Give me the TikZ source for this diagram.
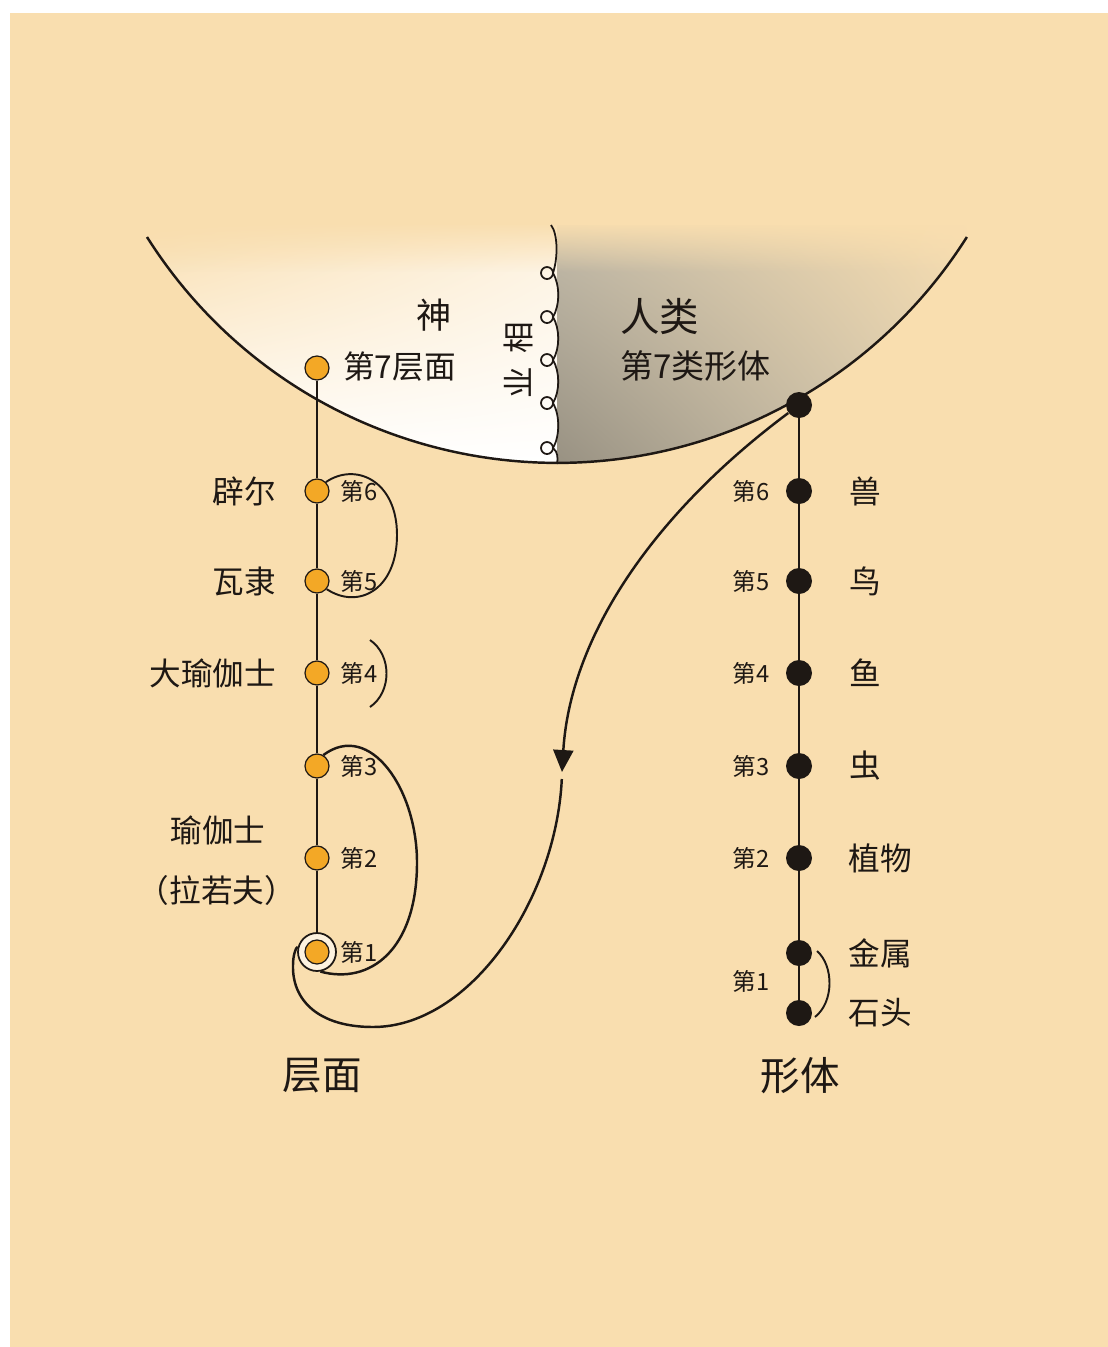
\documentclass[tikz,border=0pt]{standalone}
\usepackage{fontspec}
\setmainfont{Noto Sans CJK SC}
\usetikzlibrary{positioning,arrows.meta,shadings,fadings}
\definecolor{bg}{RGB}{249,222,175}
\definecolor{ink}{RGB}{30,24,20}
\definecolor{gold}{RGB}{243,168,38}
\definecolor{dustA}{RGB}{196,188,170}
\definecolor{dustB}{RGB}{152,145,130}
\definecolor{dustC}{RGB}{222,209,182}

\begin{document}
\begin{tikzpicture}[x=0.02cm,y=-0.02cm,
  odot/.style={circle,draw=ink,line width=0.7pt,fill=gold,inner sep=0pt,minimum size=0.48cm},
  bdot/.style={circle,fill=ink,inner sep=0pt,minimum size=0.52cm},
  ring/.style={circle,draw=ink,line width=1pt,fill=bg!40!white,inner sep=0pt,minimum size=0.76cm},
  stem/.style={draw=ink,line width=1.3pt},
  hoop/.style={draw=ink,line width=1.1pt},
  trail/.style={draw=ink,line width=1.4pt},
  wave/.style={draw=ink,line width=1pt},
  rank/.style={inner sep=0pt,text=ink,font=\fontsize{13.5pt}{15pt}\selectfont},
  kind/.style={inner sep=0pt,text=ink,font=\fontsize{18pt}{21pt}\selectfont},
  hdr/.style={inner sep=0pt,text=ink,font=\fontsize{22.5pt}{25pt}\selectfont}]
\useasboundingbox (0,0) rectangle (1108,1347);
\fill[white] (0,0) rectangle (1108,1347);
\fill[bg] (10,13) rectangle (1108,1347);

% the bowl: gods on the left, humans on the right
\begin{scope}
  \clip (147,237) arc[start angle=147.7,end angle=90,radius=485] -- (557,225) -- (147,225) -- cycle;
  \shade[upper left=bg,upper right=bg!40!white,lower left=white,lower right=white] (140,225) rectangle (557,465);
\end{scope}
\begin{scope}
  \clip (557,463) arc[start angle=90,end angle=32.3,radius=485] -- (966,225) -- (557,225) -- cycle;
  \shade[upper left=dustA,upper right=bg,lower left=dustB,lower right=dustC] (557,225) rectangle (970,465);
\end{scope}
\fill[bg,path fading=south] (140,222) rectangle (975,272);
\draw[trail] (147,237) arc[start angle=147.7,end angle=32.3,radius=485];

\draw[wave] (551,225) .. controls (558,234) and (558,258) .. (553,273)
  .. controls (560,285) and (560,305) .. (553,317)
  .. controls (560,329) and (560,348) .. (553,360)
  .. controls (560,372) and (560,391) .. (553,403)
  .. controls (560,415) and (560,436) .. (553,448)
  .. controls (558,452) and (558,458) .. (557,464);
\foreach \y in {273,317,360,403,448}
  \draw[wave] (547,\y) circle[radius=6];
\node[kind,rotate=90] (karma) at (518,360) {业\hspace{0.26cm}相};

% planes
\node[ring] (r1) at (317,952) {};
\foreach \i/\y in {7/368,6/491,5/581,4/673,3/766,2/858,1/952}
  \node[odot] (p\i) at (317,\y) {};
\draw[stem] (p7) -- (p6) -- (p5) -- (p4) -- (p3) -- (p2) -- (r1);
\foreach \i in {1,...,6}
  \node[rank,right=0.22cm of p\i] (pl\i) {第\i};

\draw[hoop] (p6.45) .. controls (355,462) and (397,480) .. (397,535)
  .. controls (397,590) and (358,610) .. (p5.-40);
\draw[hoop] (370,640) .. controls (392,655) and (392,692) .. (370,707);
\draw[trail] (p3.60) .. controls (370,720) and (418,790) .. (417,865)
  .. controls (416,950) and (370,985) .. (r1.-80);

\node[kind,font=\fontsize{20pt}{22pt}\selectfont] (god) at (434,315) {神};
\node[kind,anchor=west] (p7t) at (343,367) {第7层面};
\node[kind,left=0.56cm of p6] (pir) {辟尔};
\node[kind,left=0.56cm of p5] (wal) {瓦隶};
\node[kind,left=0.56cm of p4] (mah) {大瑜伽士};
\node[kind] (yog) at (218,830) {瑜伽士};
\node[kind] (raj) at (217,890) {（拉若夫）};
\node[hdr] (planes) at (322,1076) {层面};

% forms
\foreach \i/\y in {7/405,6/491,5/581,4/673,3/766,2/858}
  \node[bdot] (f\i) at (799,\y) {};
\node[bdot] (fm) at (799,953) {};
\node[bdot] (fs) at (799,1013) {};
\draw[stem] (f7) -- (f6) -- (f5) -- (f4) -- (f3) -- (f2) -- (fm) -- (fs);
\foreach \i in {2,...,6}
  \node[rank,left=0.32cm of f\i] (fl\i) {第\i};
\node[rank,anchor=east] (fl1) at (770,981) {第1};
\draw[hoop] (817,951) .. controls (834,966) and (834,1002) .. (815,1017);

\node[kind,right=0.74cm of f6] {兽};
\node[kind,right=0.74cm of f5] {鸟};
\node[kind,right=0.74cm of f4] {鱼};
\node[kind,right=0.74cm of f3] {虫};
\node[kind,right=0.72cm of f2] {植物};
\node[kind,right=0.72cm of fm] {金属};
\node[kind,right=0.72cm of fs] {石头};
\node[hdr,anchor=west] (man) at (620,316) {人类};
\node[kind,anchor=west,font=\fontsize{18.8pt}{21pt}\selectfont] (f7t) at (620,366) {第7类形体};
\node[hdr] (forms) at (800,1076) {形体};

% the way down
\coordinate (tip) at (562,772);
\coordinate (tail) at (561.8,779);
\draw[trail,-{Triangle[width=0.4cm,length=0.44cm]}] (f7) .. controls (649,517) and (570,640) .. (tip);
\draw[trail] (tail) .. controls (556,900) and (470,1027) .. (373,1027)
  .. controls (318,1027) and (292,1000) .. (293,965)
  .. controls (293,955) and (296,947) .. (r1.165);
\end{tikzpicture}
\end{document}
